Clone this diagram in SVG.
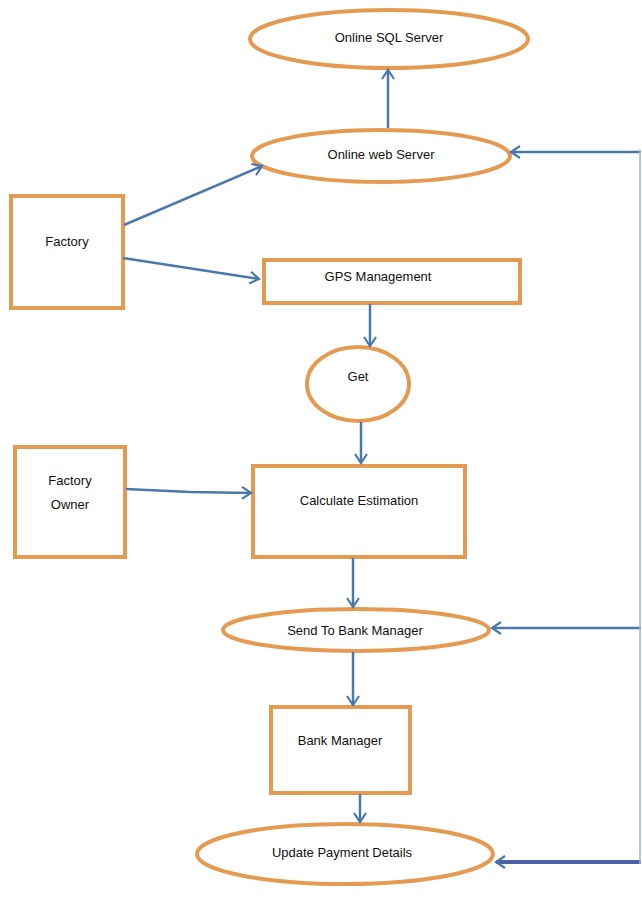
<svg xmlns="http://www.w3.org/2000/svg" width="642" height="898" viewBox="0 0 642 898">
<style>
.n{fill:#fff;stroke:#E59A52;stroke-width:4}
.c{fill:none;stroke:#4A78AD;stroke-width:2.5}
text{font-family:"Liberation Sans",Arial,sans-serif;font-size:13px;fill:#111;text-anchor:middle}
</style>
<defs>
<marker id="a" markerUnits="userSpaceOnUse" markerWidth="14" markerHeight="14" viewBox="0 0 14 14" refX="12" refY="7" orient="auto">
<path d="M3,1 L12,7 L3,13" fill="none" stroke="#4A78AD" stroke-width="2.2"/>
</marker>
</defs>
<rect width="642" height="898" fill="#fff"/>
<g id="sql"><ellipse class="n" cx="389" cy="39" rx="139" ry="29"/><text x="389" y="42">Online SQL Server</text></g>
<g id="web"><ellipse class="n" cx="381" cy="156" rx="129" ry="26"/><text x="381" y="159">Online web Server</text></g>
<g id="factory"><rect class="n" x="11" y="196" width="112" height="112"/><text x="67" y="246">Factory</text></g>
<g id="gps"><rect class="n" x="264" y="260" width="256" height="43"/><text x="378" y="281">GPS Management</text></g>
<g id="get"><ellipse class="n" cx="358" cy="384" rx="51" ry="37"/><text x="358" y="381">Get</text></g>
<g id="owner"><rect class="n" x="15" y="447" width="110" height="110"/><text x="70" y="485">Factory</text><text x="70" y="509">Owner</text></g>
<g id="calc"><rect class="n" x="253" y="466" width="212" height="91"/><text x="359" y="505">Calculate Estimation</text></g>
<g id="send"><ellipse class="n" cx="356" cy="630" rx="133" ry="21"/><text x="355" y="635">Send To Bank Manager</text></g>
<g id="bank"><rect class="n" x="271" y="707" width="139" height="86"/><text x="340" y="745">Bank Manager</text></g>
<g id="update"><ellipse class="n" cx="345" cy="854" rx="148" ry="30"/><text x="342" y="857">Update Payment Details</text></g>
<g id="connectors">
<line class="c" x1="388" y1="128" x2="388" y2="70" marker-end="url(#a)"/>
<line class="c" x1="124" y1="225" x2="262" y2="166" marker-end="url(#a)"/>
<line class="c" x1="123" y1="258" x2="259" y2="279" marker-end="url(#a)"/>
<line class="c" x1="370" y1="304" x2="370" y2="346" marker-end="url(#a)"/>
<line class="c" x1="361" y1="422" x2="361" y2="463" marker-end="url(#a)"/>
<polyline class="c" points="126,489 190,492 251,493" marker-end="url(#a)"/>
<line class="c" x1="353" y1="558" x2="353" y2="607" marker-end="url(#a)"/>
<line class="c" x1="353" y1="652" x2="353" y2="705" marker-end="url(#a)"/>
<line class="c" x1="360" y1="794" x2="360" y2="822" marker-end="url(#a)"/>
<line class="c" x1="641" y1="152" x2="511" y2="152" marker-end="url(#a)"/>
<line class="c" x1="641" y1="628" x2="492" y2="628" marker-end="url(#a)"/>
<line x1="641" y1="862" x2="496" y2="862" stroke="#4A62A8" stroke-width="4" marker-end="url(#a)"/>
<line x1="640" y1="150" x2="640" y2="864" stroke="#9BB3D0" stroke-width="1.5"/>
</g>
</svg>
